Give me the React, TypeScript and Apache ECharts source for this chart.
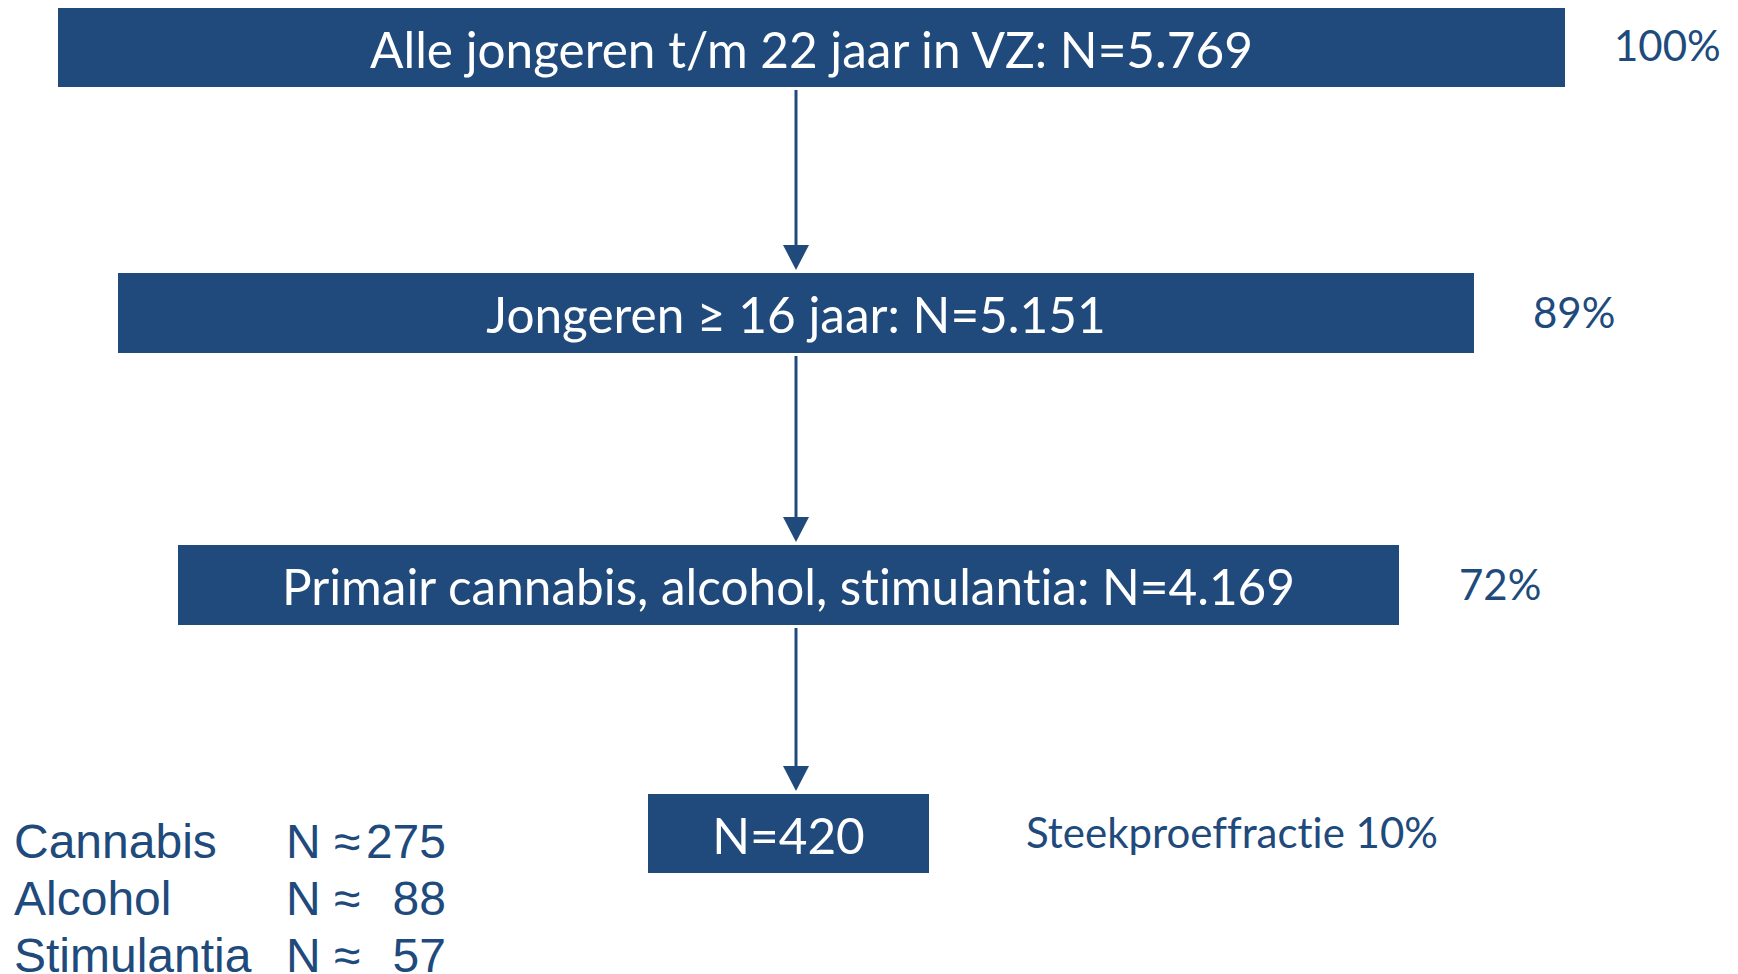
import React, { useEffect, useRef } from "react";
import * as echarts from "echarts";

// ---- data ----
const stepLabels = [
  "Alle jongeren t/m 22 jaar in VZ",
  "Jongeren ≥ 16 jaar",
  "Primair cannabis, alcohol, stimulantia",
  "",
];
const stepN = ["5.769", "5.151", "4.169", "420"];
const stepShare = ["100%", "89%", "72%", "Steekproeffractie 10%"];
const substances = ["Cannabis", "Alcohol", "Stimulantia"];
const substanceN = [275, 88, 57];

// ---- layout (canvas units, 1738 x 974) ----
const W = 1738;
const H = 974;
const boxLayout = [
  [58, 8, 1565, 87],
  [118, 273, 1474, 353],
  [178, 545, 1399, 625],
  [648, 794, 929, 873],
];
const shareLayout = [
  [1614, 45],
  [1533, 312],
  [1459, 584],
  [1026, 832],
];
const arrowX = 796;
const legendRowY = [841, 898, 955];
const legendCols = [14, 286, 446];

const BLUE = "#214A7C";
const LATO = "Lato, 'Open Sans', sans-serif";
const ARIAL = "'Liberation Sans', Arial, sans-serif";

export default function App() {
  const ref = useRef<HTMLDivElement>(null);
  useEffect(() => {
    if (!ref.current) return;
    const chart = echarts.init(ref.current, undefined, { renderer: "svg" });

    const boxData = boxLayout.map((b, i) => [b[0], b[1], b[2], b[3], i]);
    const arrowData = boxLayout.slice(0, -1).map((b, i) => [arrowX, b[3] + 3, boxLayout[i + 1][1] - 3]);
    const shareData = shareLayout.map((s, i) => [s[0], s[1], i]);
    const legendData = substances.map((s, i) => [legendCols[0], legendRowY[i], i]);

    chart.setOption({
      animation: false,
      backgroundColor: "#ffffff",
      grid: { left: 0, right: 0, top: 0, bottom: 0 },
      xAxis: { type: "value", min: 0, max: W, show: false },
      yAxis: { type: "value", min: 0, max: H, inverse: true, show: false },
      series: [
        {
          type: "custom",
          name: "boxes",
          data: boxData,
          renderItem: (params: any, api: any) => {
            const p0 = api.coord([api.value(0), api.value(1)]);
            const p1 = api.coord([api.value(2), api.value(3)]);
            const i = api.value(4);
            const label = stepLabels[i] ? `${stepLabels[i]}: N=${stepN[i]}` : `N=${stepN[i]}`;
            return {
              type: "group",
              children: [
                {
                  type: "rect",
                  shape: { x: p0[0], y: p0[1], width: p1[0] - p0[0], height: p1[1] - p0[1] },
                  style: { fill: BLUE },
                },
                {
                  type: "text",
                  style: {
                    text: label,
                    x: (p0[0] + p1[0]) / 2,
                    y: (p0[1] + p1[1]) / 2 + 1,
                    fill: "#ffffff",
                    fontSize: 49.5,
                    fontFamily: LATO,
                    align: "center",
                    verticalAlign: "middle",
                  },
                },
              ],
            };
          },
        },
        {
          type: "custom",
          name: "arrows",
          data: arrowData,
          renderItem: (params: any, api: any) => {
            const a = api.coord([api.value(0), api.value(1)]);
            const b = api.coord([api.value(0), api.value(2)]);
            const head = 25;
            const half = 13;
            return {
              type: "group",
              children: [
                {
                  type: "line",
                  shape: { x1: a[0], y1: a[1], x2: b[0], y2: b[1] - head + 2 },
                  style: { stroke: BLUE, lineWidth: 3 },
                },
                {
                  type: "polygon",
                  shape: {
                    points: [
                      [b[0] - half, b[1] - head],
                      [b[0] + half, b[1] - head],
                      [b[0], b[1]],
                    ],
                  },
                  style: { fill: BLUE },
                },
              ],
            };
          },
        },
        {
          type: "custom",
          name: "shares",
          data: shareData,
          renderItem: (params: any, api: any) => {
            const p = api.coord([api.value(0), api.value(1)]);
            const i = api.value(2);
            return {
              type: "text",
              style: {
                text: stepShare[i],
                x: p[0],
                y: p[1],
                fill: BLUE,
                fontSize: 42,
                fontFamily: LATO,
                align: "left",
                verticalAlign: "middle",
              },
            };
          },
        },
        {
          type: "custom",
          name: "legend",
          data: legendData,
          renderItem: (params: any, api: any) => {
            const p = api.coord([api.value(0), api.value(1)]);
            const i = api.value(2);
            const pN = api.coord([legendCols[1], api.value(1)]);
            const pV = api.coord([legendCols[2], api.value(1)]);
            const base = { fill: BLUE, fontSize: 48, fontFamily: ARIAL, verticalAlign: "middle" };
            return {
              type: "group",
              children: [
                { type: "text", style: { ...base, text: substances[i], x: p[0], y: p[1], align: "left" } },
                { type: "text", style: { ...base, text: "N ≈", x: pN[0], y: pN[1], align: "left" } },
                { type: "text", style: { ...base, text: String(substanceN[i]), x: pV[0], y: pV[1], align: "right" } },
              ],
            };
          },
        },
      ],
    });
    return () => chart.dispose();
  }, []);

  return (
    <>
      <style>{"svg text { font-variant-ligatures: none !important; font-feature-settings: 'liga' 0, 'clig' 0 !important; }"}</style>
      <div
        ref={ref}
        style={{ position: "fixed", left: 0, top: 0, width: W, height: H, background: "#fff" }}
      />
    </>
  );
}
